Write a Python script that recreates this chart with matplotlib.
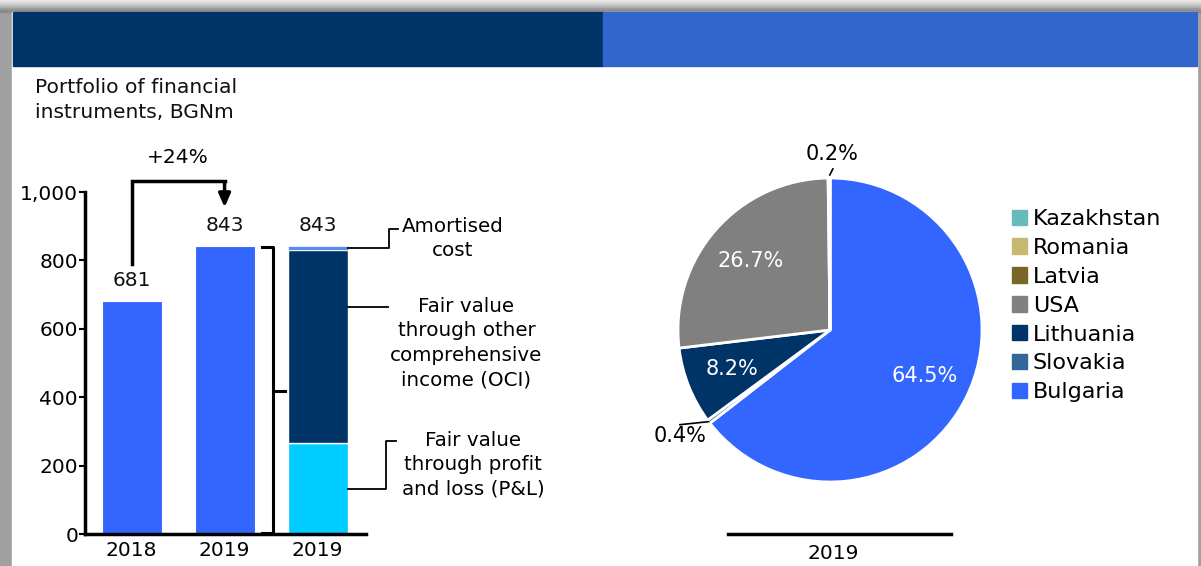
import numpy as np
import matplotlib
matplotlib.use('Agg')
import matplotlib.pyplot as plt
from matplotlib.patches import Rectangle

plt.rcParams['font.family'] = ['DejaVu Sans']

# dados - barras
anos = ['2018', '2019', '2019']
totais = [681, 843]
pl_val = 265      # Fair value through P&L
oci_val = 565     # Fair value through OCI
ac_val = 13       # Amortised cost
total_2019 = 843
variacao = '+24%'

# dados - pizza (sentido horario a partir do topo)
paises = ['Bulgaria', 'Slovakia', 'Lithuania', 'USA', 'Latvia', 'Romania', 'Kazakhstan']
partes = [64.5, 0.4, 8.2, 26.7, 0.2, 0.0, 0.0]
cores_pizza = ['#3366FF', '#336699', '#003366', '#808080', '#776628', '#C8B76E', '#66BBBB']
legenda_ordem = ['Kazakhstan', 'Romania', 'Latvia', 'USA', 'Lithuania', 'Slovakia', 'Bulgaria']

W, H = 1201, 566
fig = plt.figure(figsize=(W / 100, H / 100), dpi=100)

def fx(px):
    return px / W

def fy(py):
    return 1 - py / H

# moldura cinza e cabecalho
fig.patches.append(Rectangle((0, 0), 1, 1, transform=fig.transFigure, color='#A0A0A0', zorder=-5))
for i, c in enumerate(['#E6E6E6', '#D8D8D8', '#C8C8C8', '#B4B4B4', '#9C9C9C', '#8A8A8A']):
    fig.patches.append(Rectangle((0, fy(2 * i + 2)), 1, 2 / H, transform=fig.transFigure, color=c, zorder=-5))
fig.patches.append(Rectangle((fx(12), 0), fx(1197 - 12), fy(12), transform=fig.transFigure, color='white', zorder=-4))
fig.patches.append(Rectangle((fx(13), fy(66)), fx(603 - 13), 54 / H, transform=fig.transFigure, color='#003366', zorder=-3))
fig.patches.append(Rectangle((fx(603), fy(66)), fx(1197 - 603), 54 / H, transform=fig.transFigure, color='#3366CC', zorder=-3))

fig.text(fx(35), fy(78), 'Portfolio of financial\ninstruments, BGNm', fontsize=14.6,
         va='top', ha='left', linespacing=1.4, color='#111111')

# ---------------- grafico de barras ----------------
ax = fig.add_axes([fx(85), fy(534), fx(281), 342 / H])
ax.set_zorder(2)
ax.patch.set_alpha(0)
x = np.arange(3)
larg = 0.645
ax.bar(x[:2], totais, width=larg, color='#3366FF', edgecolor='white', linewidth=0.8)
ax.bar(x[2], pl_val, width=larg, color='#00CCFF', edgecolor='white', linewidth=1)
ax.bar(x[2], oci_val, bottom=pl_val, width=larg, color='#003366', edgecolor='white', linewidth=1)
ax.bar(x[2], ac_val, bottom=pl_val + oci_val, width=larg, color='#5B8BEA', edgecolor='white', linewidth=0.5)

for xi, v in zip(x, totais + [total_2019]):
    ax.text(xi, v + 32, str(v), ha='center', va='bottom', fontsize=14.5, color='#111111')

ax.set_xlim(-0.5, 2.52)
ax.set_ylim(0, 1000)
ax.set_yticks([0, 200, 400, 600, 800, 1000])
ax.set_yticklabels(['0', '200', '400', '600', '800', '1,000'])
ax.set_xticks(x)
ax.set_xticklabels(anos)
ax.tick_params(axis='y', length=4, width=1.5, labelsize=14.5, pad=1)
ax.tick_params(axis='x', length=0, labelsize=14.5, pad=5)
for s in ['top', 'right']:
    ax.spines[s].set_visible(False)
ax.spines['left'].set_linewidth(2.5)
ax.spines['bottom'].set_linewidth(2.5)

# seta de crescimento
y0 = totais[0] + 108
ytop = max(totais) + 190
ax.plot([0, 0, 1], [y0, ytop, ytop], color='black', lw=2.5, clip_on=False, solid_joinstyle='miter')
ax.annotate('', xy=(1, totais[1] + 104), xytext=(1, ytop + 4),
            arrowprops=dict(arrowstyle='-|>,head_length=0.8,head_width=0.35', color='black', lw=2.5),
            annotation_clip=False)
ax.text(0.5, ytop + 68, variacao, ha='center', va='center', fontsize=14.5, color='black',
        fontweight='medium')

# chave
xb, xh, xn = 1.52, 1.40, 1.65
ax.plot([xh, xb, xb, xh], [total_2019 - 3, total_2019 - 3, 3, 3], color='black', lw=2.2, clip_on=False)
ax.plot([xb, xn], [total_2019 / 2 - 3, total_2019 / 2 - 3], color='black', lw=2.2, clip_on=False)

# rotulos da barra empilhada
xr = 2 + larg / 2
ax.plot([xr, 2.77, 2.77, 2.866], [pl_val + oci_val + 6, pl_val + oci_val + 6, 892, 892],
        color='black', lw=1.3, clip_on=False)
ax.text(3.45, 864, 'Amortised\ncost', ha='center', va='center', fontsize=14.3, linespacing=1.3)
ax.plot([xr, 2.758], [664, 664], color='black', lw=1.3, clip_on=False)
ax.text(3.60, 558, 'Fair value\nthrough other\ncomprehensive\nincome (OCI)', ha='center', va='center',
        fontsize=14.3, linespacing=1.37)
ax.plot([xr, 2.737, 2.737, 2.844], [132, 132, 272, 272], color='black', lw=1.3, clip_on=False)
ax.text(3.67, 203, 'Fair value\nthrough profit\nand loss (P&L)', ha='center', va='center',
        fontsize=14.3, linespacing=1.37)

# ---------------- pizza ----------------
axp = fig.add_axes([fx(678), fy(482), fx(304), 304 / H])
axp.set_zorder(2)
fatias, _ = axp.pie(partes, colors=cores_pizza, startangle=90, counterclock=False, radius=1,
                    wedgeprops=dict(edgecolor='white', linewidth=2))
axp.set_xlim(-1, 1)
axp.set_ylim(-1, 1)
axp.axis('off')

for w, v in zip(fatias, partes):
    ang = np.deg2rad((w.theta1 + w.theta2) / 2)
    if v >= 5:
        d = 0.69
        axp.text(d * np.cos(ang), d * np.sin(ang), f'{v:.1f}%', ha='center', va='center',
                 fontsize=15, color='white')

# rotulos externos
fat_sk = fatias[paises.index('Slovakia')]
ang = np.deg2rad((fat_sk.theta1 + fat_sk.theta2) / 2)
ex, ey = np.cos(ang), np.sin(ang)
axp.plot([ex, ex - 0.19], [ey, ey - 0.02], color='black', lw=1.2, clip_on=False)
axp.text(ex - 0.19, ey - 0.03, '0.4%', ha='center', va='top', fontsize=15)

fat_lv = fatias[paises.index('Latvia')]
ang = np.deg2rad((fat_lv.theta1 + fat_lv.theta2) / 2)
ex, ey = np.cos(ang), np.sin(ang)
axp.plot([ex + 0.005, ex + 0.025], [ey + 0.02, ey + 0.06], color='black', lw=1.2, clip_on=False)
axp.text(ex + 0.02, ey + 0.095, '0.2%', ha='center', va='bottom', fontsize=15)

# legenda
mapa_cor = dict(zip(paises, cores_pizza))
alcas = [Rectangle((0, 0), 1, 1, color=mapa_cor[p]) for p in legenda_ordem]
fig.legend(alcas, legenda_ordem, loc='upper left', bbox_to_anchor=(fx(1012), fy(209)),
           frameon=False, fontsize=16, handlelength=0.68, handleheight=0.68,
           handletextpad=0.25, labelspacing=0.4, borderpad=0, borderaxespad=0)

# linha e ano abaixo da pizza
fig.add_artist(plt.Line2D([fx(728), fx(951)], [fy(534), fy(534)], color='black', lw=2.5))
fig.text(fx(833), fy(559), '2019', ha='center', va='baseline', fontsize=14.5)

fig.savefig('out.png', dpi=100)
